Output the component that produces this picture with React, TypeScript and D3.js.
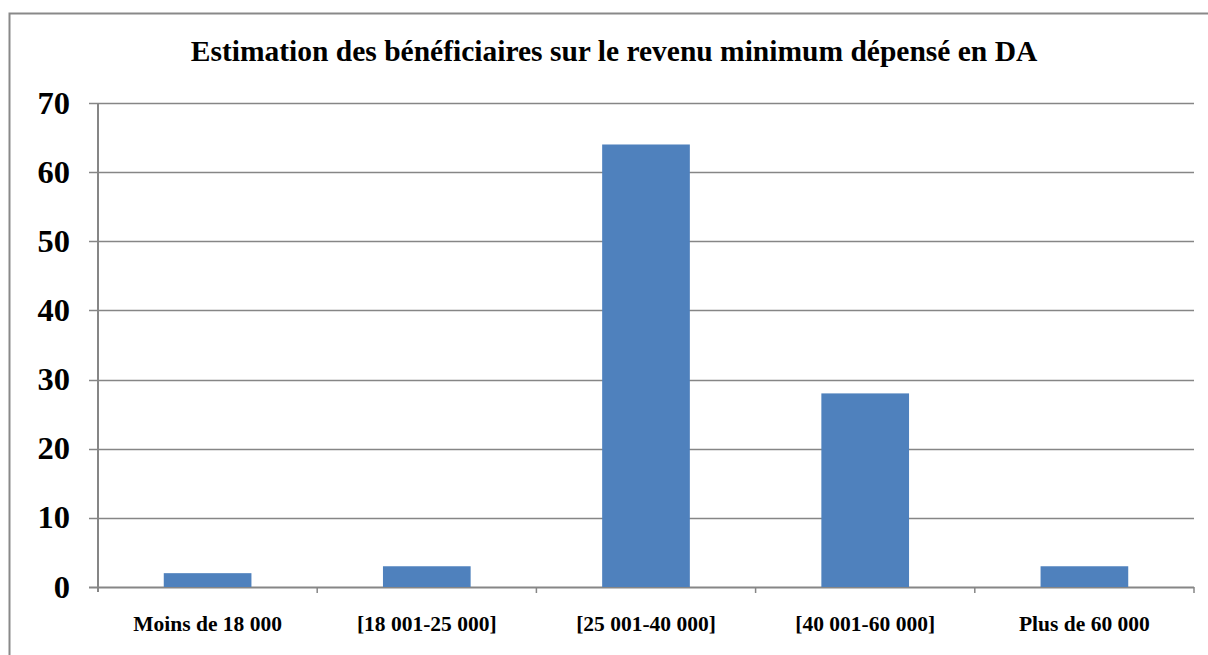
import React from "react";
import * as d3 from "d3";

const categories = ["Moins de 18 000", "[18 001-25 000]", "[25 001-40 000]", "[40 001-60 000]", "Plus de 60 000"];
const values = [2, 3, 64, 28, 3];
const yTicks = [0, 10, 20, 30, 40, 50, 60, 70];
const title = "Estimation des bénéficiaires sur le revenu minimum dépensé en DA";

export default function App() {
  const W = 1208, H = 655;
  const left = 98, right = 1194, top = 103, bottom = 587;
  const x = d3.scaleBand<string>().domain(categories).range([left, right]).paddingInner(0.6).paddingOuter(0.3);
  const xb = d3.scaleBand<string>().domain(categories).range([left, right]).padding(0);
  const y = d3.scaleLinear().domain([0, 70]).range([bottom, top]);
  const font = "Liberation Serif, Times New Roman, serif";
  const grid = "#868686";
  return (
    <svg width={W} height={H} style={{ position: "absolute", left: 0, top: 0 }} fontFamily={font}>
      <rect x={0} y={0} width={W} height={H} fill="#fff" />
      <rect x={9.5} y={13.5} width={1250} height={700} fill="none" stroke="#898989" strokeWidth={2} />
      <text x={614} y={61} textAnchor="middle" fontWeight="bold" fontSize={29.5} fontFamily={font}>{title}</text>
      {yTicks.map((t) => (
        <g key={t}>
          <line x1={left - 9} x2={right} y1={Math.round(y(t)) + 0.5} y2={Math.round(y(t)) + 0.5} stroke={grid} strokeWidth={t === 0 ? 2 : 1.5} />
          <text x={70} y={y(t) + 10.5} textAnchor="end" fontWeight="bold" fontSize={32.5} fontFamily={font}>{t}</text>
        </g>
      ))}
      <line x1={left} x2={left} y1={top} y2={bottom + 5} stroke={grid} strokeWidth={2} />
      {categories.map((c, i) => (
        <line key={"t" + i} x1={(xb(c) as number) + xb.bandwidth()} x2={(xb(c) as number) + xb.bandwidth()} y1={bottom} y2={bottom + 6} stroke={grid} strokeWidth={1.5} />
      ))}
      {categories.map((c, i) => (
        <rect key={c} x={x(c)} y={y(values[i])} width={x.bandwidth()} height={bottom - y(values[i])} fill="#4F81BD" />
      ))}
      {categories.map((c) => (
        <text key={"l" + c} x={(xb(c) as number) + xb.bandwidth() / 2} y={631} textAnchor="middle" fontWeight="bold" fontSize={21.5} fontFamily={font}>{c}</text>
      ))}
    </svg>
  );
}
